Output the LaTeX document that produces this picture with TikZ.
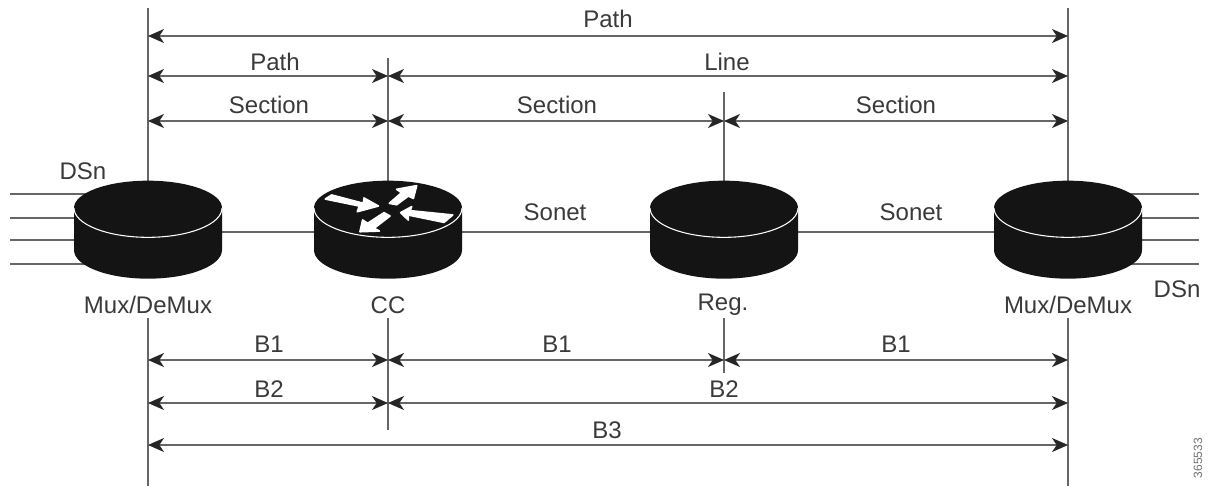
\documentclass[tikz,border=0pt]{standalone}
\usepackage{fontspec}
\setmainfont{Liberation Sans}
\usetikzlibrary{arrows.meta}
\definecolor{ink}{HTML}{3A3A3A}
\definecolor{wire}{HTML}{666666}
\tikzset{
  x=0.75pt,y=-0.75pt,
  lbl/.style={font=\fontsize{18}{20}\selectfont,text=ink,inner sep=0pt,anchor=center},
  wireline/.style={draw=wire,line width=0.95pt},
  span/.style={wireline,{Stealth[length=12pt,width=10.5pt,inset=3.5pt,color=black!85]}-{Stealth[length=12pt,width=10.5pt,inset=3.5pt,color=black!85]}},
  anchorbox/.style={inner sep=0pt,minimum width=111pt,minimum height=69pt},
  whitearrow/.style={fill=white,draw=white,line width=1.3pt,line join=round},
}
\newcommand{\cylinder}[1]{%
  \begin{scope}[shift={(#1,0)}]
    \fill[black!92] (-74,208) -- (-74,250) arc[start angle=180,end angle=360,x radius=55.5pt,y radius=21.5pt] -- (74,208) arc[start angle=0,end angle=180,x radius=55.5pt,y radius=20.5pt] -- cycle;
    \draw[white,line width=0.8pt] (-74,208) arc[start angle=180,end angle=360,x radius=55.5pt,y radius=22pt];
  \end{scope}}
\begin{document}
\begin{tikzpicture}
\useasboundingbox (0,0) rectangle (1209,486);
\fill[white] (0,0) rectangle (1209,486);
% anchor nodes of the four devices
\node[anchorbox] (mA) at (148,232) {};
\node[anchorbox] (cc) at (388,232) {};
\node[anchorbox] (rg) at (724,232) {};
\node[anchorbox] (mB) at (1068,232) {};
% tributaries
\foreach \n/\y in {1/194,2/218,3/240,4/264}{
  \coordinate (la\n) at (10,\y);
  \coordinate (lb\n) at (100,\y);
  \coordinate (ra\n) at (1199,\y);
  \coordinate (rb\n) at (1120,\y);
  \draw[wireline] (la\n) -- (lb\n);
  \draw[wireline] (rb\n) -- (ra\n);
}
% trunk
\draw[wireline] (mA.center) -- (cc.center);
\draw[wireline] (cc.center) -- (rg.center);
\draw[wireline] (rg.center) -- (mB.center);
% verticals
\coordinate (vA0) at (148,8);   \coordinate (vA1) at (148,190);
\coordinate (vA2) at (148,318); \coordinate (vA3) at (148,486);
\coordinate (vC0) at (388,58);  \coordinate (vC1) at (388,190);
\coordinate (vC2) at (388,318); \coordinate (vC3) at (388,430);
\coordinate (vR0) at (724,92);  \coordinate (vR1) at (724,190);
\coordinate (vR2) at (724,318); \coordinate (vR3) at (724,373);
\coordinate (vB0) at (1068,8);  \coordinate (vB1) at (1068,190);
\coordinate (vB2) at (1068,318);\coordinate (vB3) at (1068,486);
\foreach \a/\b in {vA0/vA1,vA2/vA3,vC0/vC1,vC2/vC3,vR0/vR1,vR2/vR3,vB0/vB1,vB2/vB3}
  \draw[wireline] (\a) -- (\b);
% devices
\cylinder{148}\cylinder{388}\cylinder{724}\cylinder{1068}
\begin{scope}[shift={(300,170)},x=0.25pt,y=-0.25pt]
  \path[whitearrow] (76,87) -- (95,75) -- (190,100) -- (192,84) -- (235,108) -- (172,125) -- (178,108) -- cycle;
  \path[whitearrow] (268,100) -- (290,104) -- (325,78) -- (340,85) -- (350,47) -- (290,58) -- (305,68) -- cycle;
  \path[whitearrow] (302,128) -- (335,110) -- (330,122) -- (458,135) -- (432,157) -- (325,135) -- (325,150) -- cycle;
  \path[whitearrow] (180,185) -- (188,150) -- (203,160) -- (252,128) -- (270,138) -- (222,175) -- (238,183) -- cycle;
\end{scope}
% span arrows
\foreach \n/\x in {A/148,C/388,R/724,B/1068}{
  \foreach \y in {36,76,121,360,403,445}{
    \coordinate (s\n\y) at (\x,\y);
  }
}
\draw[span] (sA36) -- (sB36);
\draw[span] (sA76) -- (sC76);
\draw[span] (sC76) -- (sB76);
\draw[span] (sA121) -- (sC121);
\draw[span] (sC121) -- (sR121);
\draw[span] (sR121) -- (sB121);
\draw[span] (sA360) -- (sC360);
\draw[span] (sC360) -- (sR360);
\draw[span] (sR360) -- (sB360);
\draw[span] (sA403) -- (sC403);
\draw[span] (sC403) -- (sB403);
\draw[span] (sA445) -- (sB445);
% labels
\node[lbl] (t1) at (608,19) {Path};
\node[lbl] (t2) at (275,62) {Path};
\node[lbl] (t3) at (727,62) {Line};
\node[lbl] (t4) at (269,105) {Section};
\node[lbl] (t5) at (557,105) {Section};
\node[lbl] (t6) at (896,105) {Section};
\node[lbl] (t7) at (83,171) {DSn};
\node[lbl] (t8) at (1177,289) {DSn};
\node[lbl] (t9) at (555,212) {Sonet};
\node[lbl] (t10) at (911,212) {Sonet};
\node[lbl] (t11) at (148,305) {Mux/DeMux};
\node[lbl] (t12) at (388,305) {CC};
\node[lbl] (t13) at (723,305) {Reg.};
\node[lbl] (t14) at (1068,305) {Mux/DeMux};
\node[lbl] (t15) at (269,344) {B1};
\node[lbl] (t16) at (557,344) {B1};
\node[lbl] (t17) at (896,344) {B1};
\node[lbl] (t18) at (269,389) {B2};
\node[lbl] (t19) at (724,389) {B2};
\node[lbl] (t20) at (607,430) {B3};
\node[font=\fontsize{9}{10}\selectfont,text=black!55,rotate=90,inner sep=0pt] (t21) at (1198,458) {365533};
\end{tikzpicture}
\end{document}
